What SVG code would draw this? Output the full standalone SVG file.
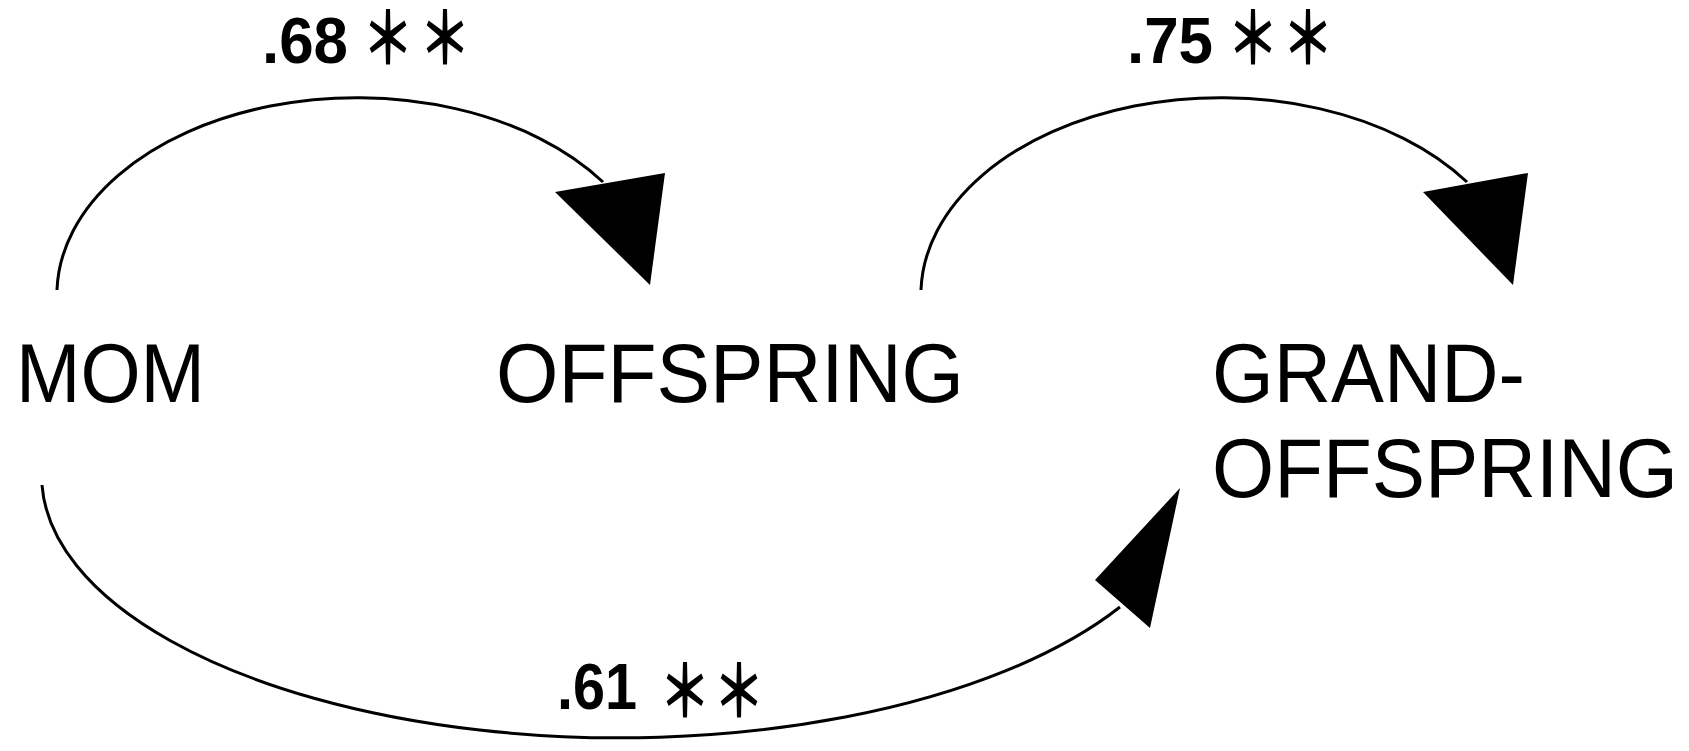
<svg xmlns="http://www.w3.org/2000/svg" width="1689" height="751" viewBox="0 0 1689 751">
  <style>
    .node { font-family: "Liberation Sans", Arial, sans-serif; font-size: 84px; fill: #000; }
    .coef { font-family: "Liberation Sans", Arial, sans-serif; font-size: 64px; font-weight: bold; fill: #000; }
    .star { font-family: "Noto Sans CJK JP", "DejaVu Sans", sans-serif; font-size: 72px; font-weight: bold; fill: #000; text-anchor: middle; dominant-baseline: central; }
    .arc { fill: none; stroke: #000; stroke-width: 3; }
    .head { fill: #000; stroke: none; }
  </style>
  <rect width="1689" height="751" fill="#fff"/>

  <!-- path coefficients between generations; each significance star is squeezed to a tall, narrow asterisk -->
  <g id="connectors">
    <g id="mom-offspring">
      <path class="arc" d="M57,290 A300,197 0 0 1 603,182"/>
      <polygon class="head" points="555,192 665,173 650,285"/>
      <text class="coef" x="262" y="63" textLength="86" lengthAdjust="spacingAndGlyphs">.68</text>
      <text class="star" transform="translate(388,32) scale(0.72,1)">＊</text>
      <text class="star" transform="translate(445,32) scale(0.72,1)">＊</text>
    </g>
    <g id="offspring-grand">
      <path class="arc" d="M921,290 A300,197 0 0 1 1467,182"/>
      <polygon class="head" points="1423,192 1528,173 1513,285"/>
      <text class="coef" x="1127" y="63" textLength="86" lengthAdjust="spacingAndGlyphs">.75</text>
      <text class="star" transform="translate(1253,32) scale(0.72,1)">＊</text>
      <text class="star" transform="translate(1308,32) scale(0.72,1)">＊</text>
    </g>
    <g id="mom-grand">
      <path class="arc" d="M42,485 A578,262 0 0 0 1120,607"/>
      <polygon class="head" points="1180,488 1095,580 1150,628"/>
      <text class="coef" x="557" y="709" textLength="80" lengthAdjust="spacingAndGlyphs">.61</text>
      <text class="star" transform="translate(685,685) scale(0.72,1)">＊</text>
      <text class="star" transform="translate(739,685) scale(0.72,1)">＊</text>
    </g>
  </g>

  <g id="mom">
    <text class="node" x="16" y="402" textLength="189" lengthAdjust="spacingAndGlyphs">MOM</text>
  </g>
  <g id="offspring">
    <text class="node" x="496" y="402" textLength="468" lengthAdjust="spacingAndGlyphs">OFFSPRING</text>
  </g>
  <g id="grand-offspring">
    <text class="node" x="1212" y="402" textLength="313" lengthAdjust="spacingAndGlyphs">GRAND-</text>
    <text class="node" x="1212" y="497" textLength="466" lengthAdjust="spacingAndGlyphs">OFFSPRING</text>
  </g>
</svg>
